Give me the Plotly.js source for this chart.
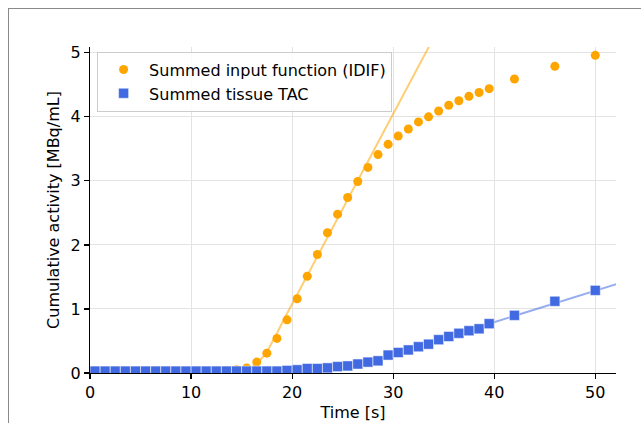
<!DOCTYPE html>
<html>
<head>
<meta charset="utf-8">
<script src="https://cdn.plot.ly/plotly-3.0.1.min.js"></script>
<style>
  html, body { margin: 0; padding: 0; background: #fff; width: 641px; height: 423px; overflow: hidden; }
  #frame { position: absolute; left: 8px; top: 8px; width: 700px; height: 500px; border: 1px solid #8a8a8a; box-sizing: border-box; }
  #chart { position: absolute; left: 0; top: 0; width: 641px; height: 423px; }
</style>
</head>
<body>
<div id="frame"></div>
<div id="chart"></div>
<script>
// Frame mid-times [s]
const timesIdif = [0.5,1.5,2.5,3.5,4.5,5.5,6.5,7.5,8.5,9.5,10.5,11.5,12.5,13.5,14.5,15.5,16.5,17.5,18.5,19.5,20.5,21.5,22.5,23.5,24.5,25.5,26.5,27.5,28.5,29.5,30.5,31.5,32.5,33.5,34.5,35.5,36.5,37.5,38.5,39.5,42,46,50];
// Summed input function (IDIF) [MBq/mL]
const idifValues = [0.02,0.02,0.02,0.02,0.02,0.02,0.02,0.02,0.02,0.02,0.02,0.02,0.03,0.04,0.05,0.08,0.17,0.31,0.54,0.83,1.16,1.51,1.85,2.19,2.48,2.74,2.99,3.21,3.41,3.57,3.70,3.81,3.92,4.00,4.09,4.18,4.25,4.32,4.38,4.44,4.59,4.79,4.96];
const timesTac = timesIdif.slice();
// Summed tissue TAC [MBq/mL]
const tacValues = [0.03,0.03,0.03,0.03,0.03,0.03,0.03,0.03,0.03,0.03,0.03,0.03,0.03,0.03,0.03,0.03,0.03,0.03,0.03,0.04,0.05,0.07,0.07,0.08,0.10,0.11,0.14,0.17,0.19,0.28,0.32,0.36,0.41,0.45,0.52,0.57,0.62,0.66,0.69,0.77,0.90,1.12,1.29];
// Fitted upslope of the input function
const idifFitX = [15.0,15.5,16.0,16.5,17.0,17.5,18.0,18.5,19.0,19.5,34.5];
const idifFitY = [0.02,0.05,0.09,0.15,0.23,0.33,0.47,0.62,0.78,0.93,5.38];
// Fitted late tissue slope
const tacFitX = [39.5, 55];
const tacFitY = [0.77, 1.53];

const legendNames = ['Summed input function (IDIF)', 'Summed tissue TAC'];
const xTicks = [0,10,20,30,40,50];
const yTicks = [0,1,2,3,4,5];

const FONT = 'DejaVu Sans, sans-serif';
const FS = 16;

const traces = [
  { x: idifFitX, y: idifFitY, mode: 'lines', line: {color: 'rgba(255,165,0,0.55)', width: 2}, showlegend: false, hoverinfo: 'skip' },
  { x: tacFitX, y: tacFitY, mode: 'lines', line: {color: 'rgba(65,105,225,0.55)', width: 2}, showlegend: false, hoverinfo: 'skip' },
  { x: timesIdif, y: idifValues, mode: 'markers', name: legendNames[0],
    marker: {symbol: 'circle', size: 9, color: '#FFA500', line: {width: 0}} },
  { x: timesTac, y: tacValues, mode: 'markers', name: legendNames[1],
    marker: {symbol: 'square', size: 10, color: '#4169E1', line: {width: 0.6, color: 'rgba(255,255,255,0.8)'}} }
];

const axisCommon = {
  showline: true, linecolor: '#000', linewidth: 1.2,
  ticks: 'outside', ticklen: 5, tickwidth: 1.2, tickcolor: '#000',
  showgrid: true, gridcolor: '#e3e3e3', gridwidth: 1,
  zeroline: false, mirror: false,
  tickfont: {family: FONT, size: FS, color: '#000'}
};

const layout = {
  width: 641, height: 423,
  margin: {l: 90, r: 25, t: 47, b: 50, pad: 0},
  paper_bgcolor: 'rgba(0,0,0,0)',
  plot_bgcolor: '#fff',
  font: {family: FONT, size: FS, color: '#000'},
  xaxis: Object.assign({}, axisCommon, {
    range: [0, 52.05], tickvals: xTicks, ticktext: xTicks.map(String),
    title: {text: 'Time [s]', font: {family: FONT, size: FS, color: '#000'}, standoff: 5}
  }),
  yaxis: Object.assign({}, axisCommon, {
    range: [0, 5.09], tickvals: yTicks, ticktext: yTicks.map(String),
    title: {text: 'Cumulative activity [MBq/mL]', font: {family: FONT, size: FS, color: '#000'}, standoff: 6}
  }),
  legend: {
    x: 0.0135, y: 0.986, xanchor: 'left', yanchor: 'top',
    bgcolor: 'rgba(255,255,255,0.85)', bordercolor: '#cccccc', borderwidth: 1,
    font: {family: FONT, size: FS, color: '#000'},
    itemwidth: 41
  },
  showlegend: true
};

Plotly.newPlot('chart', traces, layout, {displayModeBar: false, staticPlot: true});
</script>
</body>
</html>
